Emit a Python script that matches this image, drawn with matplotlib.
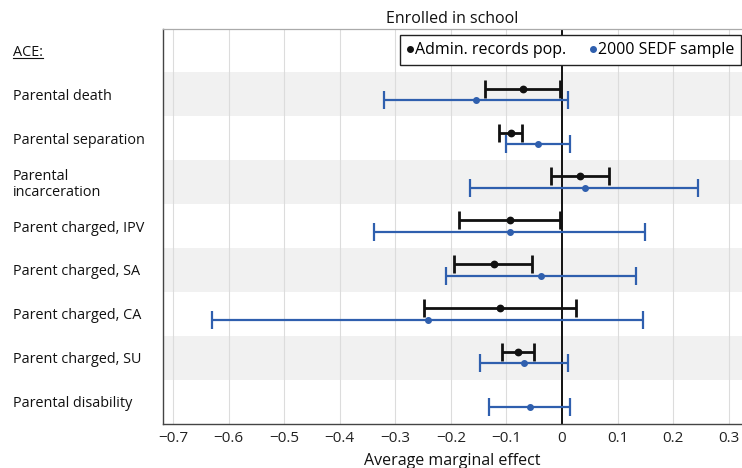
import matplotlib
matplotlib.use("Agg")
import matplotlib.pyplot as plt
from matplotlib.lines import Line2D
import numpy as np

plt.rcParams['font.family'] = ['Open Sans', 'DejaVu Sans']

# Row labels, top to bottom ("ACE:" is a header row without estimates)
labels = ["ACE:", "Parental death", "Parental separation", "Parental\nincarceration",
          "Parent charged, IPV", "Parent charged, SA", "Parent charged, CA",
          "Parent charged, SU", "Parental disability"]

# Administrative records population: point estimate and 95% CI bounds
admin_rows = [1, 2, 3, 4, 5, 6, 7]
admin_est = [-0.071, -0.092, 0.032, -0.093, -0.123, -0.111, -0.080]
admin_lo = [-0.138, -0.113, -0.019, -0.186, -0.195, -0.249, -0.108]
admin_hi = [-0.004, -0.072, 0.084, -0.003, -0.054, 0.025, -0.050]

# 2000 SEDF sample: point estimate and 95% CI bounds
sedf_rows = [1, 2, 3, 4, 5, 6, 7, 8]
sedf_est = [-0.155, -0.044, 0.041, -0.093, -0.038, -0.242, -0.069, -0.058]
sedf_lo = [-0.321, -0.101, -0.165, -0.338, -0.208, -0.629, -0.147, -0.132]
sedf_hi = [0.011, 0.015, 0.245, 0.149, 0.133, 0.145, 0.011, 0.015]

xticks = [-0.7, -0.6, -0.5, -0.4, -0.3, -0.2, -0.1, 0, 0.1, 0.2, 0.3]
xticklabels = ["\u22120.7", "\u22120.6", "\u22120.5", "\u22120.4", "\u22120.3",
               "\u22120.2", "\u22120.1", "0", "0.1", "0.2", "0.3"]

BLACK = "#111111"
BLUE = "#2f5fae"
OFFSET = 0.13

fig = plt.figure(figsize=(7.42, 4.68), dpi=100)
ax = fig.add_axes([0.2197, 0.094, 0.7803, 0.844])

# alternating shaded bands
for r in [1, 3, 5, 7]:
    ax.axhspan(r - 0.5, r + 0.5, color="#f1f1f1", lw=0, zorder=0)

for x in xticks:
    if x != 0:
        ax.axvline(x, color="#dcdcdc", lw=0.8, zorder=1)
ax.axvline(0, color="#111111", lw=1.4, zorder=2)

def draw_series(rows, est, lo, hi, color, dy, lw, ms):
    rows = np.asarray(rows, float) + dy
    est = np.asarray(est)
    err = np.vstack([est - np.asarray(lo), np.asarray(hi) - est])
    ax.errorbar(est, rows, xerr=err, fmt="o", color=color, ecolor=color,
                elinewidth=lw, capsize=6.5, capthick=lw, ms=ms, zorder=4)

draw_series(admin_rows, admin_est, admin_lo, admin_hi, BLACK, -OFFSET, 2.0, 4.6)
draw_series(sedf_rows, sedf_est, sedf_lo, sedf_hi, BLUE, OFFSET, 1.6, 4.0)

ax.set_xlim(-0.718, 0.324)
ax.set_ylim(8.51, -0.49)
ax.set_xticks(xticks)
ax.set_xticklabels(xticklabels, fontsize=11, color="#222222")
ax.set_yticks(range(len(labels)))
ax.set_yticklabels(labels, fontsize=10.4, color="#111111", ha="left",
                   linespacing=1.05)
ax.tick_params(axis="y", length=0, pad=108)
ax.tick_params(axis="x", length=0, pad=5)

for side in ["left", "bottom"]:
    ax.spines[side].set_color("#444444")
    ax.spines[side].set_linewidth(1.0)
ax.spines["top"].set_color("#aaaaaa")
ax.spines["top"].set_linewidth(0.9)
ax.spines["right"].set_visible(False)

ax.set_title("Enrolled in school", fontsize=11.5, color="#111111", pad=4)
ax.set_xlabel("Average marginal effect", fontsize=11.5, color="#111111", labelpad=5)

handles = [Line2D([], [], marker="o", ls="none", color=BLACK, ms=4),
           Line2D([], [], marker="o", ls="none", color=BLUE, ms=4)]
leg = ax.legend(handles, ["Admin. records pop.", "2000 SEDF sample"],
                loc="upper right", bbox_to_anchor=(0.999, 0.985),
                borderaxespad=0, ncol=2, fontsize=11.5, frameon=True,
                fancybox=False, handlelength=0.4, handletextpad=0.1,
                columnspacing=1.5, borderpad=0.45)
leg.get_frame().set_edgecolor("#222222")
leg.get_frame().set_linewidth(1.0)
leg.get_frame().set_alpha(1)
leg.set_zorder(6)

# underline the header label
fig.canvas.draw()
renderer = fig.canvas.get_renderer()
ace = ax.get_yticklabels()[0]
bb = ace.get_window_extent(renderer)
inv = fig.transFigure.inverted()
(x0, y0), (x1, _) = inv.transform([(bb.x0, bb.y0 + 2), (bb.x1, bb.y0)])
fig.add_artist(Line2D([x0, x1], [y0, y0], color="#111111", lw=0.8,
                      transform=fig.transFigure))

fig.savefig("out.png", dpi=100)
